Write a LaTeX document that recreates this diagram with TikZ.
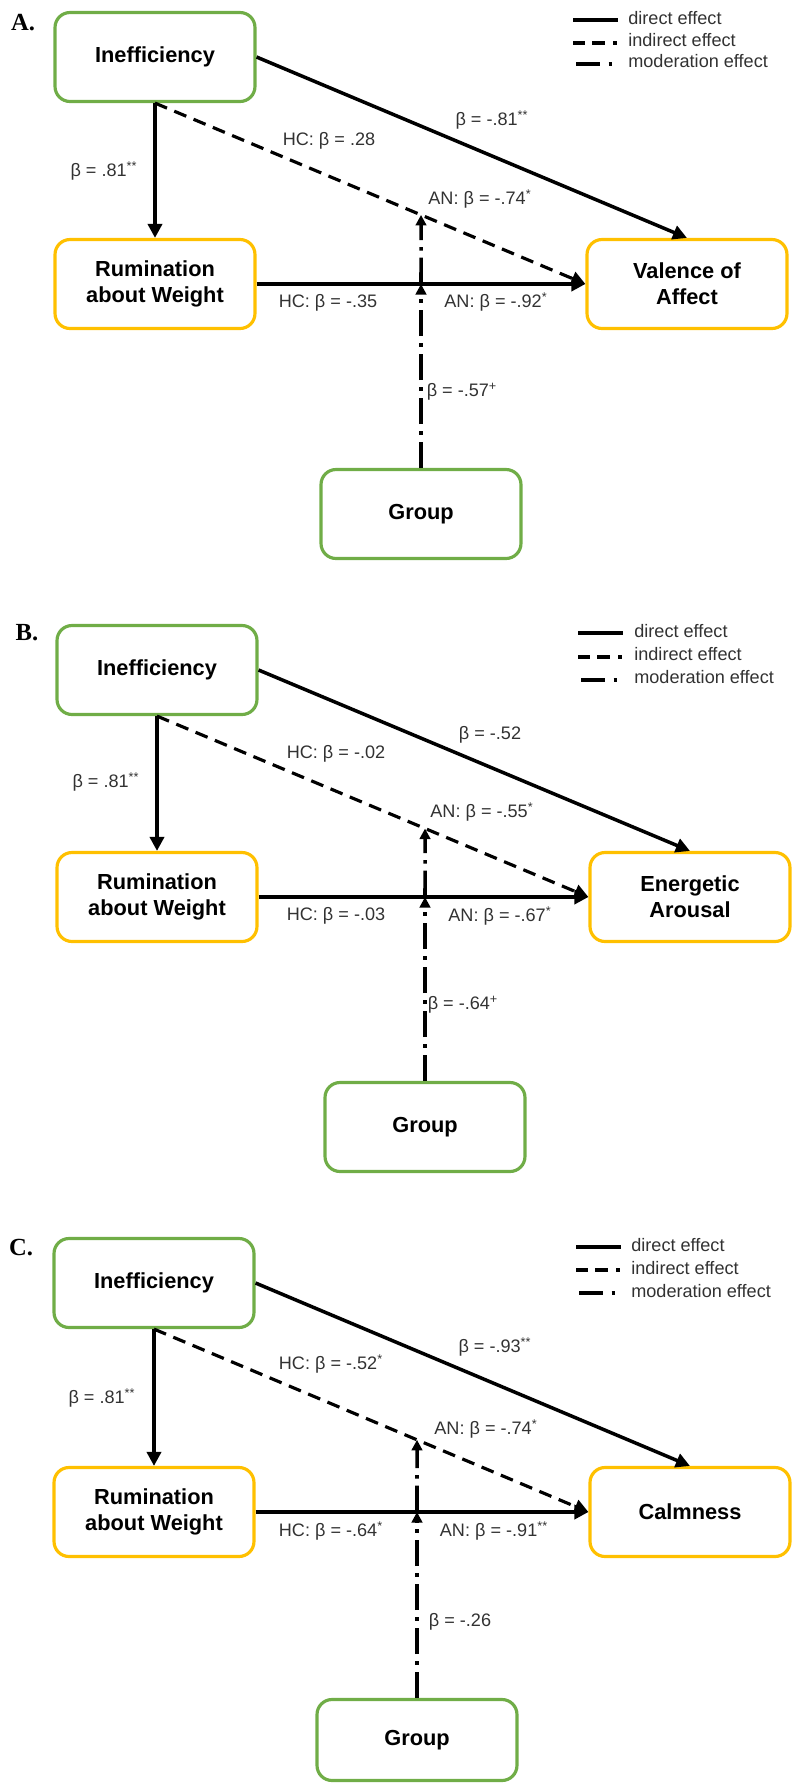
\documentclass[tikz,border=0pt]{standalone}
\usepackage{fontspec}
\setmainfont{Liberation Sans}
\newfontfamily\panelfont{Liberation Serif}
\usetikzlibrary{arrows.meta}
\definecolor{boxgreen}{RGB}{112,173,71}
\definecolor{boxyellow}{RGB}{255,192,0}
\definecolor{labelgray}{RGB}{50,50,50}

\begin{document}
\begin{tikzpicture}[
  x=0.02cm, y=-0.02cm,
  box/.style={draw, rounded corners=0.3cm, line width=1.8pt,
    minimum width=4.0cm, minimum height=1.78cm, align=center,
    font={\fontsize{12.4}{14.9}\selectfont\bfseries}},
  predictor/.style={box, draw=boxgreen},
  mediator/.style={box, draw=boxyellow},
  coef/.style={font={\fontsize{10.3}{12}\selectfont}, text=labelgray,
    inner sep=0pt, text height=7.5pt, text depth=2pt},
  legendtext/.style={coef, anchor=west},
  paneltag/.style={font={\fontsize{14}{16}\selectfont\panelfont\bfseries}},
  direct/.style={line width=2pt, -{Triangle[length=8pt,width=8pt]}},
  indirect/.style={line width=1.8pt, dash pattern=on 7.4pt off 4.5pt,
    -{Triangle[length=8pt,width=8pt]}},
  moderation/.style={line width=2pt,
    dash pattern=on 15pt off 4pt on 2pt off 4pt,
    -{Triangle[length=6pt,width=6pt]}},
  legendline/.style={line width=2.3pt},
  ]
  \useasboundingbox (0,0) rectangle (792,1783);

  % ---------------- Panel A ----------------
  \node[paneltag] (tagA) at (23,23) {A.};
  \node[predictor] (ineffA) at (155,57) {Inefficiency};
  \node[mediator] (rumA) at (155,284) {Rumination\\about Weight};
  \node[mediator] (outA) at (687,284) {Valence of\\Affect};
  \node[predictor] (groupA) at (421,514) {Group};
  % paths
  \draw[direct] (ineffA.south) -- (rumA.north);
  \draw[direct] (ineffA.east) -- (outA.north);
  \draw[indirect] (ineffA.south) -- (outA.west);
  \draw[direct] (rumA.east) -- (outA.west);
  \coordinate (modA1) at (groupA.north |- rumA.east);
  \coordinate (modA2) at (intersection of ineffA.south--outA.west and groupA.north--modA1);
  \draw[moderation] (groupA.north) -- (modA1);
  \draw[moderation] (modA1) -- (modA2);
  % coefficients
  \node[coef] (cA1) at (104,172) {β = .81\textsuperscript{**}};
  \node[coef] (cA2) at (329,141) {HC: β = .28};
  \node[coef] (cA3) at (492,121) {β = -.81\textsuperscript{**}};
  \node[coef] (cA4) at (480,200) {AN: β = -.74\textsuperscript{*}};
  \node[coef] (cA5) at (328,303) {HC: β = -.35};
  \node[coef] (cA6) at (496,303) {AN: β = -.92\textsuperscript{*}};
  \node[coef] (cA7) at (462,392) {β = -.57\textsuperscript{+}};
  % legend
  \begin{scope}[shift={(573,20)}]
    \draw[legendline] (0,0) -- (45,0);
    \draw[legendline, dash pattern=on 7pt off 4pt on 7pt off 5pt on 2pt off 20pt] (0,23) -- (45,23);
    \draw[legendline, dash pattern=on 13.6pt off 5pt on 2pt off 20pt] (3,44) -- (45,44);
    \node[legendtext] (legA1) at (55,0) {direct effect};
    \node[legendtext] (legA2) at (55,22) {indirect effect};
    \node[legendtext] (legA3) at (55,43) {moderation effect};
  \end{scope}

  % ---------------- Panel B ----------------
  \node[paneltag] (tagB) at (27,633) {B.};
  \node[predictor] (ineffB) at (157,670) {Inefficiency};
  \node[mediator] (rumB) at (157,897) {Rumination\\about Weight};
  \node[mediator] (outB) at (690,897) {Energetic\\Arousal};
  \node[predictor] (groupB) at (425,1127) {Group};
  % paths
  \draw[direct] (ineffB.south) -- (rumB.north);
  \draw[direct] (ineffB.east) -- (outB.north);
  \draw[indirect] (ineffB.south) -- (outB.west);
  \draw[direct] (rumB.east) -- (outB.west);
  \coordinate (modB1) at (groupB.north |- rumB.east);
  \coordinate (modB2) at (intersection of ineffB.south--outB.west and groupB.north--modB1);
  \draw[moderation] (groupB.north) -- (modB1);
  \draw[moderation] (modB1) -- (modB2);
  % coefficients
  \node[coef] (cB1) at (106,783) {β = .81\textsuperscript{**}};
  \node[coef] (cB2) at (336,754) {HC: β = -.02};
  \node[coef] (cB3) at (490,735) {β = -.52};
  \node[coef] (cB4) at (482,813) {AN: β = -.55\textsuperscript{*}};
  \node[coef] (cB5) at (336,916) {HC: β = -.03};
  \node[coef] (cB6) at (500,917) {AN: β = -.67\textsuperscript{*}};
  \node[coef] (cB7) at (463,1005) {β = -.64\textsuperscript{+}};
  % legend
  \begin{scope}[shift={(578,633)}]
    \draw[legendline] (0,0) -- (45,0);
    \draw[legendline, dash pattern=on 7pt off 4pt on 7pt off 5pt on 2pt off 20pt] (0,24) -- (45,24);
    \draw[legendline, dash pattern=on 13.6pt off 5pt on 2pt off 20pt] (3,47) -- (45,47);
    \node[legendtext] (legB1) at (56,0) {direct effect};
    \node[legendtext] (legB2) at (56,23) {indirect effect};
    \node[legendtext] (legB3) at (56,46) {moderation effect};
  \end{scope}

  % ---------------- Panel C ----------------
  \node[paneltag] (tagC) at (21,1248) {C.};
  \node[predictor] (ineffC) at (154,1283) {Inefficiency};
  \node[mediator] (rumC) at (154,1512) {Rumination\\about Weight};
  \node[mediator] (outC) at (690,1512) {Calmness};
  \node[predictor, minimum height=1.62cm] (groupC) at (417,1740) {Group};
  % paths
  \draw[direct] (ineffC.south) -- (rumC.north);
  \draw[direct] (ineffC.east) -- (outC.north);
  \draw[indirect] (ineffC.south) -- (outC.west);
  \draw[direct] (rumC.east) -- (outC.west);
  \coordinate (modC1) at (groupC.north |- rumC.east);
  \coordinate (modC2) at (intersection of ineffC.south--outC.west and groupC.north--modC1);
  \draw[moderation] (groupC.north) -- (modC1);
  \draw[moderation] (modC1) -- (modC2);
  % coefficients
  \node[coef] (cC1) at (102,1399) {β = .81\textsuperscript{**}};
  \node[coef] (cC2) at (331,1365) {HC: β = -.52\textsuperscript{*}};
  \node[coef] (cC3) at (495,1348) {β = -.93\textsuperscript{**}};
  \node[coef] (cC4) at (486,1430) {AN: β = -.74\textsuperscript{*}};
  \node[coef] (cC5) at (331,1532) {HC: β = -.64\textsuperscript{*}};
  \node[coef] (cC6) at (494,1532) {AN: β = -.91\textsuperscript{**}};
  \node[coef] (cC7) at (460,1622) {β = -.26};
  % legend
  \begin{scope}[shift={(576,1247)}]
    \draw[legendline] (0,0) -- (45,0);
    \draw[legendline, dash pattern=on 7pt off 4pt on 7pt off 5pt on 2pt off 20pt] (0,23) -- (45,23);
    \draw[legendline, dash pattern=on 13.6pt off 5pt on 2pt off 20pt] (3,46) -- (45,46);
    \node[legendtext] (legC1) at (55,0) {direct effect};
    \node[legendtext] (legC2) at (55,23) {indirect effect};
    \node[legendtext] (legC3) at (55,46) {moderation effect};
  \end{scope}
\end{tikzpicture}
\end{document}
